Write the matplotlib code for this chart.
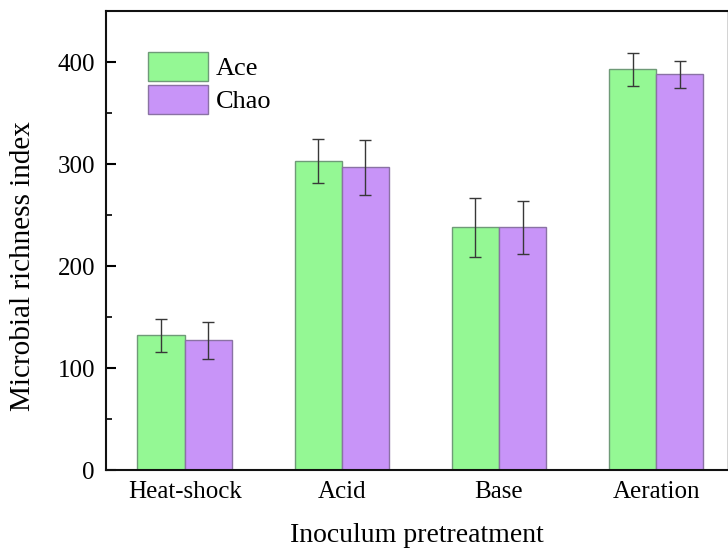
import numpy as np
import matplotlib
matplotlib.use("Agg")
import matplotlib.pyplot as plt

plt.rcParams['font.family'] = ['Liberation Serif', 'DejaVu Serif']

categories = ["Heat-shock", "Acid", "Base", "Aeration"]
ace = [132, 303, 238, 393]
ace_err = [16, 22, 29, 16]
chao = [127, 297, 238, 388]
chao_err = [18, 27, 26, 13]

fig = plt.figure(figsize=(7.28, 5.54), dpi=100)
ax = fig.add_axes([0.1456, 0.1516, 0.853, 0.8284])

x = np.arange(len(categories))
w = 0.3
ekw = {'elinewidth': 1.0, 'capthick': 1.0}
ax.bar(x - w/2, ace, w, yerr=ace_err, color='#94f894', edgecolor='#6f9a78',
       linewidth=1.0, ecolor='#383838', capsize=4, error_kw=ekw, label='Ace')
ax.bar(x + w/2, chao, w, yerr=chao_err, color='#c894f8', edgecolor='#8a72a4',
       linewidth=1.0, ecolor='#383838', capsize=4, error_kw=ekw, label='Chao')

ax.set_xlim(-0.5, 3.45)
ax.set_ylim(0, 450)
ax.set_xticks(x)
ax.set_xticklabels(categories, fontsize=18)
ax.set_yticks([0, 100, 200, 300, 400])
ax.set_yticks([50, 150, 250, 350], minor=True)
ax.tick_params(axis='y', which='major', direction='in', length=7, width=1.5, labelsize=18, pad=8)
ax.tick_params(axis='y', which='minor', direction='in', length=4, width=1.2)
ax.tick_params(axis='x', length=0, pad=8)
for s in ax.spines.values():
    s.set_linewidth(1.5)
    s.set_color('#111111')
ax.spines['right'].set_linewidth(0.6)
ax.spines['right'].set_color('#cccccc')

ax.set_xlabel("Inoculum pretreatment", fontsize=20, labelpad=14)
ax.set_ylabel("Microbial richness index", fontsize=21)
ax.yaxis.set_label_coords(-0.113, 0.444)

ax.legend(loc='upper left', bbox_to_anchor=(0.068, 0.911), frameon=False, fontsize=19,
          handlelength=2.25, handleheight=1.3, labelspacing=0.16, handletextpad=0.3,
          borderpad=0, borderaxespad=0)

fig.savefig("out.png", dpi=100)
